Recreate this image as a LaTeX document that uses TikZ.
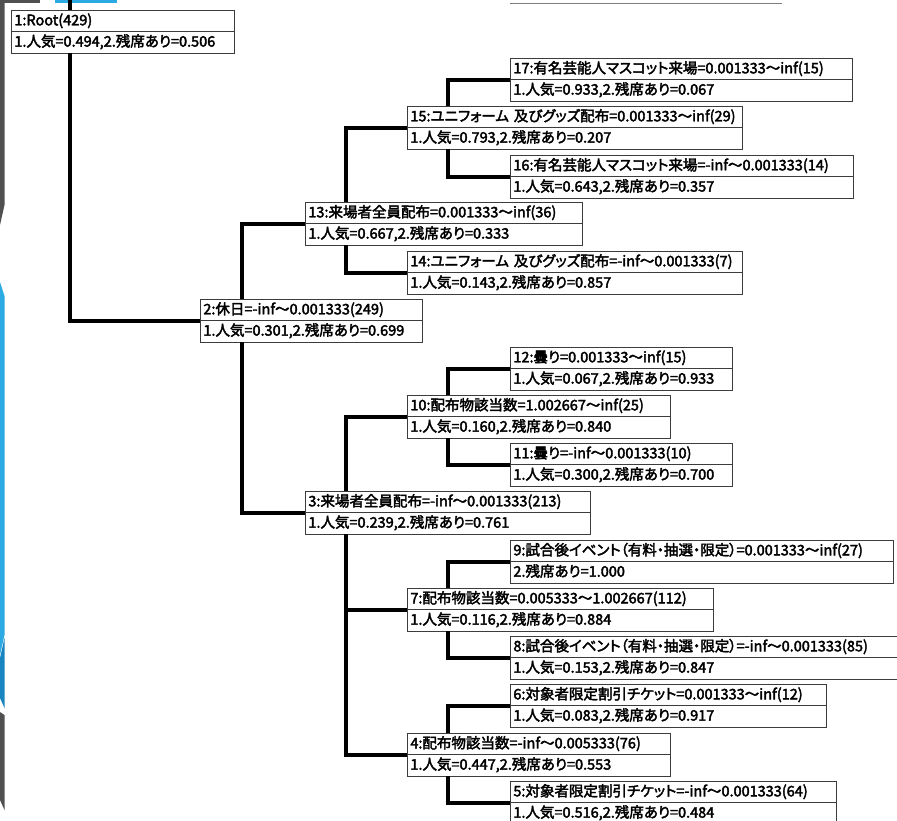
\documentclass[tikz,border=0pt]{standalone}
\usepackage{fontspec}
\setmainfont{Noto Sans CJK JP}[RawFeature=+palt, AutoFakeBold=2.6]
\usetikzlibrary{shapes.multipart,calc}
\usepackage{xcolor}
\definecolor{BoxLine}{RGB}{60,60,60}
\definecolor{SlideGray}{RGB}{80,80,80}
\definecolor{SlideBlue}{RGB}{44,170,228}
\definecolor{SlideDeep}{RGB}{24,132,192}
\newcommand{\treefont}{\fontsize{14.5}{17}\selectfont\bfseries}
\newcommand{\rowstrut}{\rule[-6pt]{0pt}{20.5pt}}
\tikzset{
  treebox/.style={rectangle split, rectangle split parts=2, draw=BoxLine,
    line width=0.8pt, fill=white, inner xsep=3pt, inner ysep=0pt,
    align=left, anchor=north west, font=\treefont},
  link/.style={line width=4pt, black, line join=miter}
}

\begin{document}
\begin{tikzpicture}[x=1pt, y=-1pt]
  \useasboundingbox[fill=white] (0,0) rectangle (897,820);
  % slide decoration
  \fill[SlideGray] (0,0) rectangle (40,3);
  \fill[SlideBlue] (55,0) rectangle (117,2.5);
  \fill[SlideGray] (0,0) -- (4.5,0) -- (4.5,205) -- (0,225) -- cycle;
  \fill[SlideBlue] (0,282) -- (4.5,296) -- (4.5,635) -- (0,655) -- cycle;
  \fill[SlideDeep] (0,658) -- (4.5,638) -- (4.5,708) -- (0,698) -- cycle;
  \fill[SlideGray] (0,712) -- (4.5,715) -- (4.5,810) -- (0,800) -- cycle;
  \draw[gray, line width=1pt] (510,3) -- (782,3);

  % boxes
  \node[treebox, text width=217pt] (n1) at (11,10)
    {\rowstrut 1:Root(429)\nodepart{two}\rowstrut 1.人気=0.494,2.残席あり=0.506};
  \node[treebox, text width=336pt] (n17) at (510,58)
    {\rowstrut 17:有名芸能人マスコット来場=0.001333〜inf(15)\nodepart{two}\rowstrut 1.人気=0.933,2.残席あり=0.067};
  \node[treebox, text width=329pt] (n15) at (407,106)
    {\rowstrut 15:ユニフォーム 及びグッズ配布=0.001333〜inf(29)\nodepart{two}\rowstrut 1.人気=0.793,2.残席あり=0.207};
  \node[treebox, text width=337pt] (n16) at (510,155)
    {\rowstrut 16:有名芸能人マスコット来場=-inf〜0.001333(14)\nodepart{two}\rowstrut 1.人気=0.643,2.残席あり=0.357};
  \node[treebox, text width=271pt] (n13) at (305,202)
    {\rowstrut 13:来場者全員配布=0.001333〜inf(36)\nodepart{two}\rowstrut 1.人気=0.667,2.残席あり=0.333};
  \node[treebox, text width=329pt] (n14) at (407,251)
    {\rowstrut 14:ユニフォーム 及びグッズ配布=-inf〜0.001333(7)\nodepart{two}\rowstrut 1.人気=0.143,2.残席あり=0.857};
  \node[treebox, text width=216pt] (n2) at (200,299)
    {\rowstrut 2:休日=-inf〜0.001333(249)\nodepart{two}\rowstrut 1.人気=0.301,2.残席あり=0.699};
  \node[treebox, text width=216pt] (n12) at (510,347)
    {\rowstrut 12:曇り=0.001333〜inf(15)\nodepart{two}\rowstrut 1.人気=0.067,2.残席あり=0.933};
  \node[treebox, text width=257pt] (n10) at (407,395)
    {\rowstrut 10:配布物該当数=1.002667〜inf(25)\nodepart{two}\rowstrut 1.人気=0.160,2.残席あり=0.840};
  \node[treebox, text width=216pt] (n11) at (510,443)
    {\rowstrut 11:曇り=-inf〜0.001333(10)\nodepart{two}\rowstrut 1.人気=0.300,2.残席あり=0.700};
  \node[treebox, text width=279pt] (n3) at (305,491)
    {\rowstrut 3:来場者全員配布=-inf〜0.001333(213)\nodepart{two}\rowstrut 1.人気=0.239,2.残席あり=0.761};
  \node[treebox, text width=377pt] (n9) at (510,540)
    {\rowstrut 9:試合後イベント（有料・抽選・限定）=0.001333〜inf(27)\nodepart{two}\rowstrut 2.残席あり=1.000};
  \node[treebox, text width=300pt] (n7) at (407,588)
    {\rowstrut 7:配布物該当数=0.005333〜1.002667(112)\nodepart{two}\rowstrut 1.人気=0.116,2.残席あり=0.884};
  \node[treebox, text width=394pt] (n8) at (510,636)
    {\rowstrut 8:試合後イベント（有料・抽選・限定）=-inf〜0.001333(85)\nodepart{two}\rowstrut 1.人気=0.153,2.残席あり=0.847};
  \node[treebox, text width=310pt] (n6) at (510,684)
    {\rowstrut 6:対象者限定割引チケット=0.001333〜inf(12)\nodepart{two}\rowstrut 1.人気=0.083,2.残席あり=0.917};
  \node[treebox, text width=257pt] (n4) at (407,733)
    {\rowstrut 4:配布物該当数=-inf〜0.005333(76)\nodepart{two}\rowstrut 1.人気=0.447,2.残席あり=0.553};
  \node[treebox, text width=320pt] (n5) at (510,781)
    {\rowstrut 5:対象者限定割引チケット=-inf〜0.001333(64)\nodepart{two}\rowstrut 1.人気=0.516,2.残席あり=0.484};

  % branches
  \coordinate (cut) at (70,0);
  \draw[link] (cut) -- (cut |- n1.north);
  \draw[link] ($(n1.south west)+(59,0)$) |- (n2.one split west);
  \draw[link] ($(n2.north west)+(42,0)$) |- (n13.one split west);
  \draw[link] ($(n2.south west)+(42,0)$) |- (n3.one split west);
  \draw[link] ($(n13.north west)+(41,0)$) |- (n15.one split west);
  \draw[link] ($(n13.south west)+(41,0)$) |- (n14.one split west);
  \draw[link] ($(n15.north west)+(41,0)$) |- (n17.one split west);
  \draw[link] ($(n15.south west)+(41,0)$) |- (n16.one split west);
  \draw[link] ($(n3.north west)+(41,0)$) |- (n10.one split west);
  \draw[link] ($(n3.south west)+(41,0)$) |- (n7.one split west);
  \draw[link] ($(n3.south west)+(41,0)$) |- (n4.one split west);
  \draw[link] ($(n10.north west)+(41,0)$) |- (n12.one split west);
  \draw[link] ($(n10.south west)+(41,0)$) |- (n11.one split west);
  \draw[link] ($(n7.north west)+(41,0)$) |- (n9.one split west);
  \draw[link] ($(n7.south west)+(41,0)$) |- (n8.one split west);
  \draw[link] ($(n4.north west)+(41,0)$) |- (n6.one split west);
  \draw[link] ($(n4.south west)+(41,0)$) |- (n5.one split west);
\end{tikzpicture}
\end{document}
